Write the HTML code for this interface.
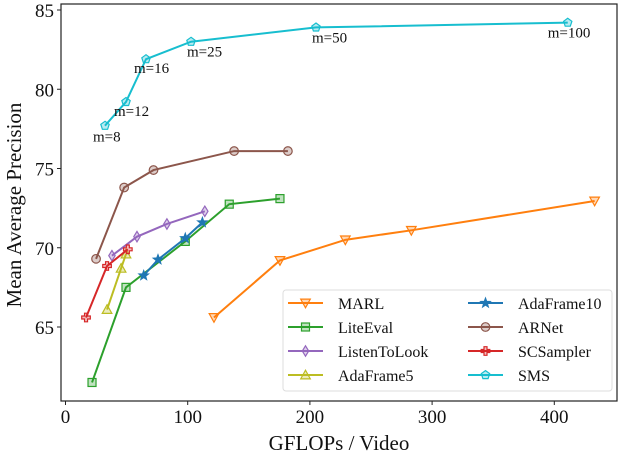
<!DOCTYPE html>
<html><head><meta charset="utf-8"><style>
body{margin:0;background:#fff}
svg{font-family:"Liberation Serif",serif}
</style></head><body>
<svg id="chart" width="622" height="454"></svg>
<script>
const seriesNames=["MARL","LiteEval","ListenToLook","AdaFrame5","AdaFrame10","ARNet","SCSampler","SMS"];
const colors=["#ff7f0e","#2ca02c","#9467bd","#bcbd22","#1f77b4","#8c564b","#d62728","#17becf"];
const markers=["tri-down","square","diamond","tri-up","star","circle","plus","pentagon"];
const marlX=[121.5,175.5,229,283,433];const marlY=[65.6,69.2,70.5,71.1,72.95];
const liteX=[21.7,49.5,98,134,175.5];const liteY=[61.5,67.5,70.4,72.75,73.1];
const listenX=[38,58.5,83,114];const listenY=[69.5,70.7,71.5,72.3];
const ada5X=[34,45.5,49.5];const ada5Y=[66.1,68.7,69.6];
const ada10X=[64,75.7,98,112];const ada10Y=[68.25,69.25,70.6,71.6];
const arnetX=[25,48,72,138,182];const arnetY=[69.3,73.8,74.9,76.1,76.1];
const scX=[16.8,34,51];const scY=[65.6,68.85,69.9];
const smsX=[32.3,49.5,65.9,102.7,205,411];const smsY=[77.7,79.2,81.9,83.0,83.9,84.2];
const smsLabels=["m=8","m=12","m=16","m=25","m=50","m=100"];
const xTicks=[0,100,200,300,400];const yTicks=[65,70,75,80,85];
const allX=[marlX,liteX,listenX,ada5X,ada10X,arnetX,scX,smsX];
const allY=[marlY,liteY,listenY,ada5Y,ada10Y,arnetY,scY,smsY];

const NS="http://www.w3.org/2000/svg";
const svg=document.getElementById('chart');
const L=61,R=617,T=4,B=401;
function sx(v){return 65.5+v*1.222;}
function sy(v){return 10+(85-v)*15.85;}
function mk(tag,at,parent){const e=document.createElementNS(NS,tag);for(const k in at)e.setAttribute(k,at[k]);(parent||svg).appendChild(e);return e;}
function marker(g,type,x,y,c){
  const s=4.8;let e;
  const st={fill:c,'fill-opacity':0.3,stroke:c,'stroke-width':1.2};
  if(type==='tri-down')e=mk('polygon',Object.assign({points:`${x-s},${y-s*0.8} ${x+s},${y-s*0.8} ${x},${y+s}`},st),g);
  else if(type==='tri-up')e=mk('polygon',Object.assign({points:`${x-s},${y+s*0.8} ${x+s},${y+s*0.8} ${x},${y-s}`},st),g);
  else if(type==='square')e=mk('rect',Object.assign({x:x-4,y:y-4,width:8,height:8},st),g);
  else if(type==='diamond')e=mk('polygon',Object.assign({points:`${x},${y-5.2} ${x+3.2},${y} ${x},${y+5.2} ${x-3.2},${y}`},st),g);
  else if(type==='circle')e=mk('circle',Object.assign({cx:x,cy:y,r:4.3},st),g);
  else if(type==='plus')e=mk('path',Object.assign({d:`M${x-1.5},${y-4.3}h3v2.8h2.8v3h-2.8v2.8h-3v-2.8h-2.8v-3h2.8z`},st),g);
  else if(type==='star'){let p=[];for(let i=0;i<10;i++){const r=i%2?2:4.8,a=-Math.PI/2+i*Math.PI/5;p.push((x+r*Math.cos(a)).toFixed(1)+','+(y+r*Math.sin(a)).toFixed(1));}e=mk('polygon',Object.assign({points:p.join(' ')},st,{'fill-opacity':1}),g);}
  else {let p=[];for(let i=0;i<5;i++){const a=-Math.PI/2+i*2*Math.PI/5;p.push((x+4.4*Math.cos(a)).toFixed(1)+','+(y+4.4*Math.sin(a)).toFixed(1));}e=mk('polygon',Object.assign({points:p.join(' ')},st),g);}
  return e;
}
const frame=mk('rect',{x:L,y:T,width:R-L,height:B-T,fill:'none',stroke:'#222','stroke-width':1.2});


xTicks.forEach(v=>{
  const t=mk('line',{x1:sx(v),x2:sx(v),y1:B,y2:B+4,stroke:'#222'});
  
  
  const tx=mk('text',{x:sx(v),y:B+22,'text-anchor':'middle','font-size':19,fill:'#111'});tx.textContent=v;
  
  
});
yTicks.forEach(v=>{
  const t=mk('line',{x1:L-4,x2:L,y1:sy(v),y2:sy(v),stroke:'#222'});
  
  
  const tx=mk('text',{x:L-7,y:sy(v)+7,'text-anchor':'end','font-size':19,fill:'#111'});tx.textContent=v;
  
  
});
const xt=mk('text',{x:339,y:450,'text-anchor':'middle','font-size':21,fill:'#111'});xt.textContent='GFLOPs / Video';


const yt=mk('text',{x:0,y:0,transform:'translate(21,205) rotate(-90)','text-anchor':'middle','font-size':21,fill:'#111'});yt.textContent='Mean Average Precision';


seriesNames.forEach((n,i)=>{
  const g=mk('g',{});
  
  
  const pts=allX[i].map((x,j)=>sx(x)+','+sy(allY[i][j])).join(' ');
  mk('polyline',{points:pts,fill:'none',stroke:colors[i],'stroke-width':2},g);
  allX[i].forEach((x,j)=>{const m=marker(g,markers[i],sx(x),sy(allY[i][j]),colors[i]);
    
    });
});
const off=[[-12,16],[-12,14],[-12,14],[-4,15],[-4,15],[-20,15]];
smsLabels.forEach((s,j)=>{
  const t=mk('text',{x:sx(smsX[j])+off[j][0],y:sy(smsY[j])+off[j][1],'font-size':15,fill:'#111'});t.textContent=s;
  
  
});
const lg=mk('g',{});


mk('rect',{x:283,y:290,width:329,height:101,rx:3,fill:'#fff','fill-opacity':0.85,stroke:'#ddd'},lg);
seriesNames.forEach((n,i)=>{
  const col=i<4?0:1,row=i%4;
  const x0=col?468:288,y0=303+row*24;
  const e=mk('g',{},lg);
  
  
  mk('line',{x1:x0,x2:x0+35,y1:y0,y2:y0,stroke:colors[i],'stroke-width':2},e);
  marker(e,markers[i],x0+17.5,y0,colors[i]);
  const t=mk('text',{x:x0+50,y:y0+6,'font-size':16,fill:'#111'},e);t.textContent=n;
});
</script>
</body></html>
